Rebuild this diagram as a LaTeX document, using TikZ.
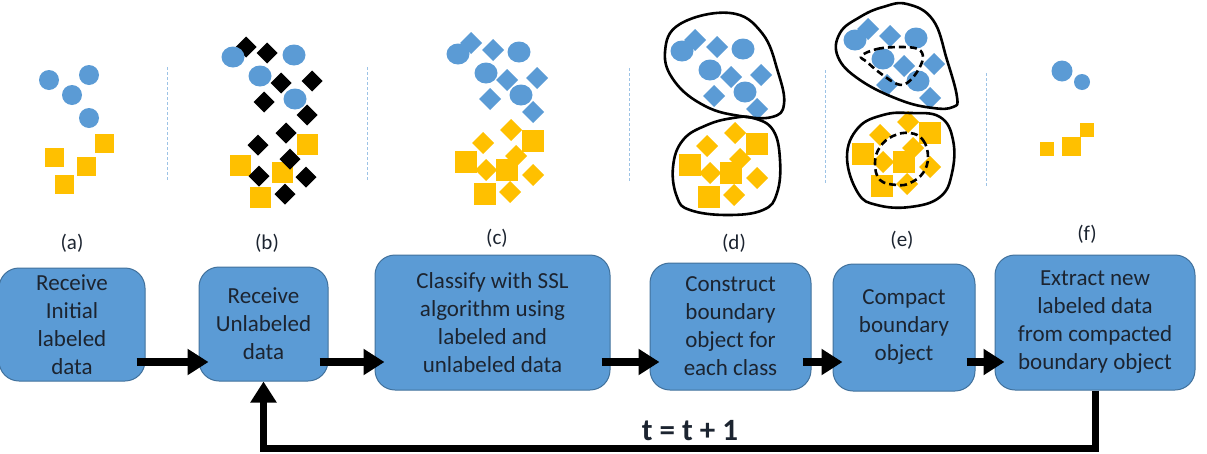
\documentclass[tikz,border=0pt]{standalone}
\usepackage{fontspec}
\setmainfont{Carlito}
\usetikzlibrary{arrows.meta}
\definecolor{ptblue}{HTML}{5B9BD5}
\definecolor{ptgold}{HTML}{FFC000}
\definecolor{boxline}{HTML}{41719C}
\definecolor{sepblue}{HTML}{9DC3E6}
\definecolor{txt}{HTML}{1C2430}
\tikzset{stepbox/.style={rectangle, rounded corners=20pt, draw=boxline, line width=1pt, fill=ptblue, align=center, text=txt, inner sep=0pt, font=\fontsize{23}{28}\selectfont}}
\tikzset{flow/.style={line width=8pt, -{Triangle[length=21pt,width=25pt]}}}
\tikzset{sublabel/.style={text=txt, font=\fontsize{21}{24}\selectfont}}
\tikzset{sepline/.style={sepblue, line width=1pt, dash pattern=on 3pt off 2pt}}
\tikzset{hull/.style={line width=2.6pt, line join=round}}
\tikzset{core/.style={hull, dash pattern=on 7pt off 4pt}}
\newcommand\bluecluster{%
  \foreach \x/\y in {471/43,493/50,507/80,537/78,490/99,533/112}
    \fill[ptblue] (\x,\y) +(-11,0) -- +(0,-11) -- +(11,0) -- +(0,11) -- cycle;
  \foreach \x/\y in {458/54,519/52,486/73,521/95}
    \fill[ptblue] (\x,\y) ellipse [x radius=11.5pt, y radius=10.5pt];
}
\newcommand\goldcluster{%
  \foreach \x/\y in {533/141,466/162,507/170,485/194}
    \fill[ptgold] (\x,\y) +(-11,-11) rectangle +(11,11);
  \foreach \x/\y in {511/130,483/143,486/170,516/156,533/175,510/192}
    \fill[ptgold] (\x,\y) +(-11,0) -- +(0,-11) -- +(11,0) -- +(0,11) -- cycle;
}

\begin{document}
\begin{tikzpicture}[x=1pt,y=-1pt]
  \useasboundingbox (0,0) rectangle (1207,453);

  \foreach \x/\a/\b in {167/67/180, 367/67/180, 629/68/182, 825/70/183, 986/73/187}
    \draw[sepline] (\x,\a) -- (\x,\b);

  % (a)
  \foreach \x/\y in {49/80, 89/75, 72/95, 89/118}
    \fill[ptblue] (\x,\y) circle (10pt);
  \foreach \x/\y in {54/157, 104/143, 86/166, 64/184}
    \fill[ptgold] (\x,\y) +(-9.5,-9.5) rectangle +(9.5,9.5);

  % (b)
  \foreach \x/\y in {307/144, 240/165, 282/172, 260/197}
    \fill[ptgold] (\x,\y) +(-10.5,-10.5) rectangle +(10.5,10.5);
  \foreach \x/\y in {246/47, 267/53, 281/83, 312/81, 264/102, 307/115,
                     286/133, 258/145, 290/159, 259/176, 306/177, 285/194}
    \fill[black] (\x,\y) +(-10.5,0) -- +(0,-10.5) -- +(10.5,0) -- +(0,10.5) -- cycle;
  \foreach \x/\y in {233/57, 294/55, 260/76, 295/99}
    \fill[ptblue] (\x,\y) ellipse [x radius=11.5pt, y radius=10.5pt];

  % (c)
  \bluecluster
  \goldcluster

  % (d)
  \begin{scope}[shift={(224,-3)}]
    \bluecluster
  \end{scope}
  \begin{scope}[shift={(224,3)}]
    \goldcluster
  \end{scope}
  \draw[hull] plot[smooth cycle, tension=0.7] coordinates {(730,13) (762,33) (778,72) (784,104) (772,117) (740,116) (705,106) (675,82) (665,52) (680,24)};
  \draw[hull] plot[smooth cycle, tension=0.7] coordinates {(753,118) (773,130) (780,160) (777,193) (763,210) (727,215) (690,210) (677,197) (673,167) (683,140) (707,125) (733,118)};

  % (e)
  \begin{scope}[shift={(397,-14)}]
    \bluecluster
  \end{scope}
  \begin{scope}[shift={(397,-8)}]
    \goldcluster
  \end{scope}
  \draw[hull] plot[smooth cycle, tension=0.7] coordinates {(907,4) (933,20) (947,60) (957,97) (953,107) (933,108) (900,100) (860,80) (838,57) (840,33) (860,17) (883,7)};
  \draw[hull] plot[smooth cycle, tension=0.7] coordinates {(910,113) (940,117) (953,140) (952,173) (940,197) (910,207) (877,205) (858,193) (847,157) (858,128) (883,115)};
  \draw[core] plot[smooth cycle, tension=0.6] coordinates {(861,56) (877,49) (900,47) (918,49) (923,58) (917,72) (907,83) (897,84) (880,73) (867,62)};
  \draw[core] plot[smooth cycle, tension=0.7] coordinates {(910,133) (923,140) (928,157) (923,173) (910,183) (897,185) (880,180) (875,163) (880,147) (893,136)};

  % (f)
  \fill[ptblue] (1062,71) circle (10.5pt);
  \fill[ptblue] (1082,82) circle (8pt);
  \fill[ptgold] (1047,149) +(-7,-7) rectangle +(7,7);
  \fill[ptgold] (1071,146) +(-9.5,-9.5) rectangle +(9.5,9.5);
  \fill[ptgold] (1087,130) +(-7,-7) rectangle +(7,7);

  \foreach \x/\y/\lab in {72/243/a, 267/243/b, 497/238/c, 734/243/d, 902/240/e, 1087/234/f}
    \node[sublabel] (lab\lab) at (\x,\y) {(\lab)};

  \foreach \x/\y/\w/\h/\lab/\tx in {
    72/324.5/146/113/recv/{Receive\\Initial\\labeled\\data},
    263.5/324/129/114/unlab/{Receive\\Unlabeled\\data},
    492.5/322.5/235/135/classify/{Classify with SSL\\algorithm using\\labeled and\\unlabeled data},
    730.5/326.5/161/127/construct/{Construct\\boundary\\object for\\each class},
    904/327.5/142/127/compact/{Compact\\boundary\\object},
    1095/322.5/200/135/extract/{Extract new\\labeled data\\from compacted\\boundary object}%
  } {
    \node[stepbox, minimum width=\w pt, minimum height=\h pt] (\lab) at (\x,\y) {\tx};
  }

  \coordinate (lane) at (0,362);
  \coordinate (loop) at (0,448);
  \foreach \a/\b in {recv/unlab, unlab/classify, classify/construct, construct/compact, compact/extract}
    \draw[flow, shorten <=-9pt, shorten >=-10pt] (\a.east |- lane) -- (\b.west |- lane);
  \draw[flow, line width=7pt] (extract.south) -- (extract.south |- loop) -| (unlab.south);

  \node[text=txt, font=\bfseries\fontsize{31}{33}\selectfont] (tinc) at (690,431) {t = t + 1};
\end{tikzpicture}
\end{document}
